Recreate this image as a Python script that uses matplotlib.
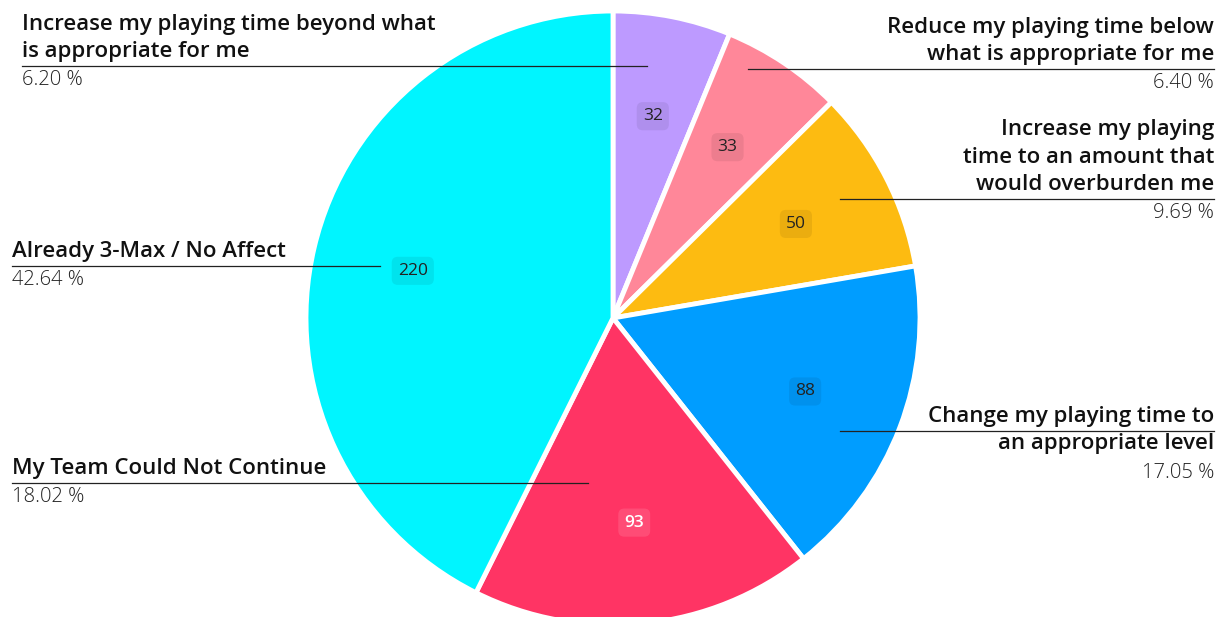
import matplotlib.pyplot as plt
import numpy as np
from matplotlib.lines import Line2D

W, H = 1219, 617

categories = [
    'Increase my playing time beyond what\nis appropriate for me',
    'Reduce my playing time below\nwhat is appropriate for me',
    'Increase my playing\ntime to an amount that\nwould overburden me',
    'Change my playing time to\nan appropriate level',
    'My Team Could Not Continue',
    'Already 3-Max / No Affect',
]
counts = [32, 33, 50, 88, 93, 220]
colors = ['#bd9aff', '#ff8799', '#fdbb11', '#009dff', '#ff3464', '#00f5ff']

# label layout: side, leader y, text edge x, leader end x (px), text lines above the leader
layout = [
    ('left', 66, 22, 647, 2),
    ('right', 69, 1214, 748, 2),
    ('right', 199, 1214, 840, 3),
    ('right', 431, 1214, 840, 1),
    ('left', 483, 12, 588, 1),
    ('left', 266, 12, 380, 1),
]

plt.rcParams['font.family'] = ['Open Sans', 'DejaVu Sans']

def fx(px):
    return px / W

def fy(py):
    return 1 - py / H

fig = plt.figure(figsize=(W / 100, H / 100), dpi=100)
cx, cy, R = 613, 318, 307
ax = fig.add_axes([(cx - R) / W, (H - cy - R) / H, 2 * R / W, 2 * R / H])

total = sum(counts)
wedges, _, autotexts = ax.pie(
    counts, colors=colors, startangle=90, counterclock=False, radius=1,
    autopct=lambda p: '%d' % round(p * total / 100), pctdistance=0.67,
    wedgeprops=dict(edgecolor='white', linewidth=3.5, joinstyle='round'))
ax.set_xlim(-1, 1)
ax.set_ylim(-1, 1)
ax.axis('off')

for i, t in enumerate(autotexts):
    if colors[i] == '#ff3464':
        t.set_color('white')
        t.set_fontweight('semibold')
        box = (1, 1, 1, 0.12)
    else:
        t.set_color('#222222')
        box = (0, 0, 0, 0.07)
    t.set_fontsize(12.5)
    t.set_bbox(dict(boxstyle='round,pad=0.35,rounding_size=0.35', facecolor=box, edgecolor='none'))

lh = 28
for name, n, (side, ly, tx, end_x, n_above) in zip(categories, counts, layout):
    fig.add_artist(Line2D([fx(tx), fx(end_x)], [fy(ly), fy(ly)],
                          transform=fig.transFigure, color='#222222', lw=0.9))

    rows = name.split('\n')
    above, below = rows[:n_above], rows[n_above:]
    fig.text(fx(tx), fy(ly - 4), '\n'.join(above), ha=side, va='bottom',
             fontsize=16, fontweight='semibold', color='#111111', linespacing=1.4)
    if below:
        fig.text(fx(tx), fy(ly + 2), '\n'.join(below), ha=side, va='top',
                 fontsize=16, fontweight='semibold', color='#111111', linespacing=1.4)
    pct = '%.2f %%' % (n / total * 100)
    fig.text(fx(tx), fy(ly + 4 + len(below) * lh), pct, ha=side, va='top',
             fontsize=14.5, fontweight='light', color='#222222')

fig.savefig('out.png', dpi=100)
